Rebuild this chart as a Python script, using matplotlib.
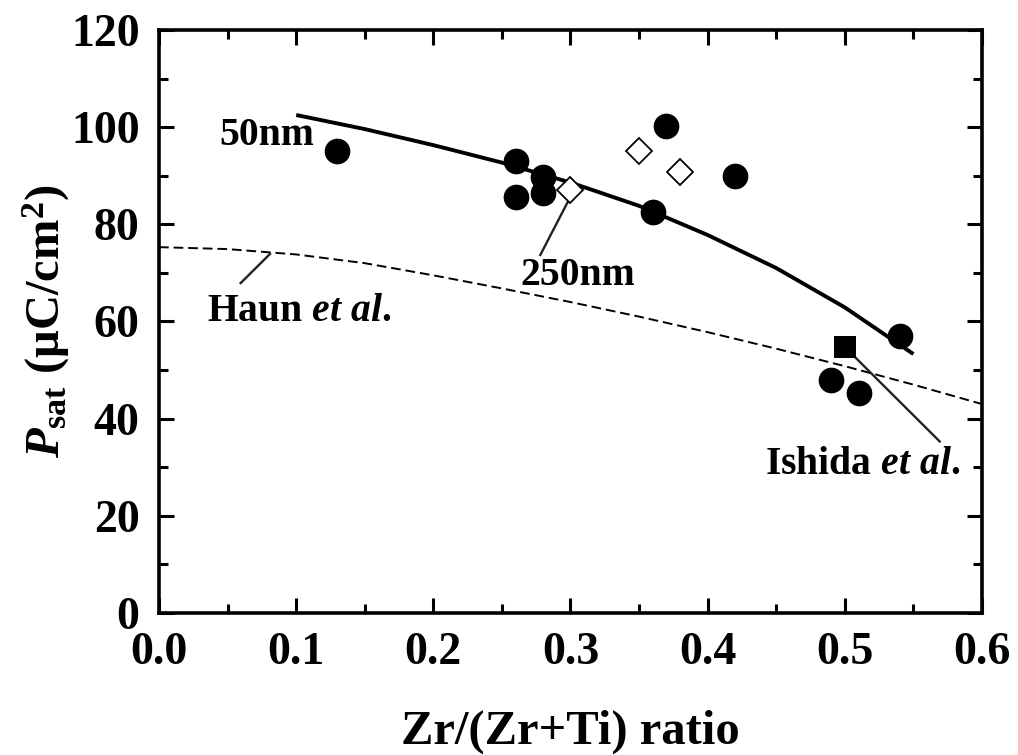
import numpy as np
import matplotlib
matplotlib.use("Agg")
import matplotlib.pyplot as plt

plt.rcParams['font.family'] = ['Liberation Serif', 'DejaVu Serif']
plt.rcParams['font.weight'] = 'bold'
plt.rcParams['axes.labelweight'] = 'bold'
plt.rcParams['mathtext.fontset'] = 'custom'
plt.rcParams['mathtext.rm'] = 'Liberation Serif:bold'
plt.rcParams['mathtext.it'] = 'Liberation Serif:bold:italic'
plt.rcParams['mathtext.bf'] = 'Liberation Serif:bold'

# filled circles (this work)
circ_x = [0.13, 0.26, 0.26, 0.28, 0.28, 0.37, 0.36, 0.42, 0.54, 0.49, 0.51]
circ_y = [95.0, 93.0, 85.7, 89.7, 86.5, 100.3, 82.5, 90.0, 57.0, 48.0, 45.3]

# open diamonds
dia_x = [0.30, 0.35, 0.38]
dia_y = [87.1, 95.0, 90.8]

# Ishida et al.
sq_x = [0.50]
sq_y = [54.8]

# 50nm curve
fit_x = [0.10, 0.15, 0.20, 0.25, 0.30, 0.35, 0.40, 0.45, 0.50, 0.55]
fit_y = [102.5, 99.6, 96.3, 92.7, 88.6, 83.8, 77.8, 71.0, 62.9, 53.3]

# Haun et al. curve
haun_x = [0.0, 0.05, 0.10, 0.15, 0.20, 0.25, 0.30, 0.35, 0.40, 0.45, 0.50, 0.55, 0.60]
haun_y = [75.3, 74.9, 73.8, 72.0, 69.5, 66.8, 64.0, 61.0, 57.8, 54.4, 50.8, 47.0, 43.0]

fig = plt.figure(figsize=(10.18, 7.55), dpi=100)
ax = fig.add_axes([0.1562, 0.1881, 0.8084, 0.7722])

ax.plot(haun_x, haun_y, color='black', lw=1.4, dashes=(5, 2.5))
ax.plot(fit_x, fit_y, color='black', lw=2.8, solid_capstyle='butt')
ax.plot(circ_x, circ_y, 'o', color='black', ms=18.5, mew=0, zorder=5)
ax.plot(dia_x, dia_y, 'D', mfc='white', mec='black', ms=13.5, mew=1.3, zorder=5)
ax.plot(sq_x, sq_y, 's', color='black', ms=16, mew=0, zorder=5)

ann = 28.5
lc = '#222222'
ax.text(0.0437, 96.3, '50nm', fontsize=ann, ha='left', va='baseline')
ax.plot([0.298, 0.278], [84.6, 73.7], color=lc, lw=1.7)
ax.text(0.3055, 67.5, '250nm', fontsize=ann, ha='center', va='baseline')
ax.plot([0.0809, 0.0595], [73.9, 67.9], color=lc, lw=1.7)
ax.text(0.0352, 60.0, r'Haun $et\ al.$', fontsize=ann, ha='left', va='baseline')
ax.plot([0.5073, 0.5692], [52.7, 35.3], color=lc, lw=1.7)
ax.text(0.4417, 28.6, r'Ishida $et\ al.$', fontsize=ann, ha='left', va='baseline')

ax.set_xlim(0, 0.6)
ax.set_ylim(0, 120)
ax.set_xticks(np.arange(0, 0.61, 0.1))
ax.set_xticks(np.arange(0.05, 0.6, 0.1), minor=True)
ax.set_yticks(np.arange(0, 121, 20))
ax.set_yticks(np.arange(10, 120, 20), minor=True)
ax.set_xticklabels(['0.0', '0.1', '0.2', '0.3', '0.4', '0.5', '0.6'])

ax.tick_params(which='both', direction='in', top=True, right=True, width=2.2)
ax.tick_params(which='major', length=11, labelsize=33)
ax.tick_params(which='minor', length=6.5)
ax.tick_params(axis='x', pad=14)
ax.tick_params(axis='y', pad=14)
for s in ax.spines.values():
    s.set_linewidth(2.6)

ax.set_xlabel('Zr/(Zr+Ti) ratio', fontsize=35, fontweight='bold', labelpad=25)
ax.set_ylabel(r'$P_{\mathrm{sat}}$ (μC/cm$^{\mathrm{2}}$)', fontsize=35,
              fontweight='bold', labelpad=-1)

fig.savefig('out.png', dpi=100)
